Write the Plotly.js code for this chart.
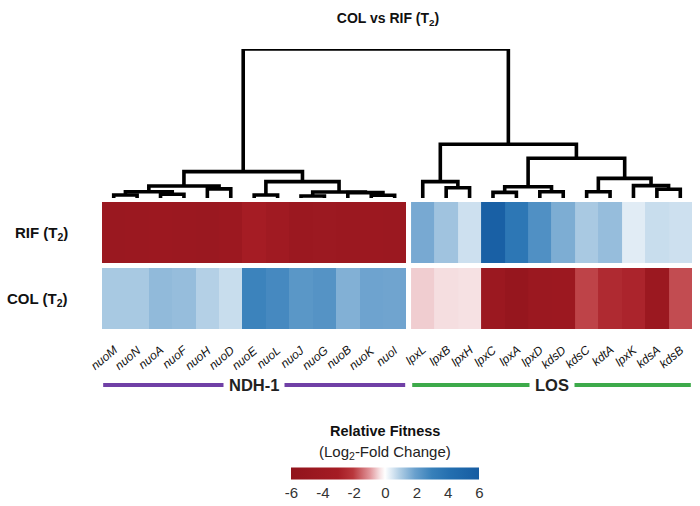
<!DOCTYPE html>
<html><head><meta charset="utf-8">
<script src="https://cdn.plot.ly/plotly-3.0.1.min.js"></script>
<style>html,body{margin:0;padding:0;background:#fff}#chart{width:700px;height:506px}</style>
</head><body><div id="chart"></div>
<script>
// ---- data ----
const ndhGenes = ['nuoM','nuoN','nuoA','nuoF','nuoH','nuoD','nuoE','nuoL','nuoJ','nuoG','nuoB','nuoK','nuoI'];
const losGenes = ['lpxL','lpxB','lpxH','lpxC','lpxA','lpxD','kdsD','kdsC','kdtA','lpxK','kdsA','kdsB'];
const conditions = ['COL (T<sub>2</sub>)', 'RIF (T<sub>2</sub>)']; // bottom row, top row
const ndhRIF = [-4.6,-4.5,-4.4,-4.5,-4.6,-4.4,-3.0,-3.8,-4.5,-4.3,-4.5,-4.4,-4.5];
const ndhCOL = [1.05,1.05,1.37,1.3,0.9,0.66,2.9,2.68,2.24,2.35,1.58,1.85,1.83];
const losRIF = [1.72,1.17,0.6,5.6,3.6,2.46,1.65,1.04,1.3,0.36,0.66,0.6];
const losCOL = [-0.5,-0.36,-0.33,-4.5,-5.2,-4.5,-4.4,-1.9,-2.5,-2.7,-4.5,-1.8];
const groupNames = ['NDH-1','LOS'];
const colorTicks = [-6,-4,-2,0,2,4,6];
// dendrogram merges: [childA, childB, height]; child = gene name or earlier merge index
const merges = [
  ['nuoM','nuoN',0.20],   //0
  ['nuoA','nuoF',0.25],   //1
  [0,1,0.42],             //2
  ['nuoH','nuoD',0.61],   //3
  [2,3,0.81],             //4
  ['nuoE','nuoL',0.20],   //5
  ['nuoJ','nuoG',0.13],   //6
  ['nuoK','nuoI',0.18],   //7
  ['nuoB',7,0.36],        //8
  [6,8,0.40],             //9
  [5,9,1.10],             //10
  [4,10,1.77],            //11
  ['lpxB','lpxH',0.69],   //12
  ['lpxL',12,1.10],       //13
  ['lpxC','lpxA',0.38],   //14
  ['lpxD','kdsD',0.42],   //15
  [14,15,0.76],           //16
  ['kdsC','kdtA',0.42],   //17
  ['kdsA','kdsB',0.59],   //18
  ['lpxK',18,0.83],       //19
  [17,19,1.32],           //20
  [16,20,2.67],           //21
  [13,21,3.61],           //22
  [11,22,10]              //23
];

// ---- layout helpers ----
const FONT = 'Arial, "Liberation Sans", Helvetica, sans-serif';
const blockGap = 0.2;
const ndhX = ndhGenes.map((g,i)=>i);
const losX = losGenes.map((g,i)=>ndhGenes.length + blockGap + i);
const leafX = {};
ndhGenes.forEach((g,i)=>leafX[g]=ndhX[i]);
losGenes.forEach((g,i)=>leafX[g]=losX[i]);

const colorscale = [
  [0,'rgb(145,20,28)'],[0.25,'rgb(165,28,36)'],[0.33,'rgb(185,55,60)'],
  [0.42,'rgb(225,150,155)'],[0.47,'rgb(245,222,224)'],[0.5,'rgb(255,255,255)'],
  [0.54,'rgb(215,230,242)'],[0.58,'rgb(175,205,228)'],[0.66,'rgb(105,160,205)'],
  [0.75,'rgb(55,128,186)'],[0.85,'rgb(35,110,175)'],[1,'rgb(22,92,162)']
];

// dendrogram segments
const nodeX = [], nodeH = [];
const dx = [], dy = [];
function pos(c){ return typeof c === 'number' ? [nodeX[c], nodeH[c]] : [leafX[c], 0]; }
merges.forEach((m,k)=>{
  const a = pos(m[0]), b = pos(m[1]), h = m[2];
  dx.push(a[0],a[0],b[0],b[0],null);
  dy.push(a[1],h,h,b[1],null);
  nodeX[k] = (a[0]+b[0])/2; nodeH[k] = h;
});

const common = {type:'heatmap', colorscale, zmin:-6, zmax:6, ygap:5, hoverinfo:'skip'};
const traces = [
  Object.assign({}, common, {x: ndhX, y:[0,1], z:[ndhCOL, ndhRIF], showscale:true,
    colorbar:{orientation:'h', x:0.4805, xanchor:'center', y:-0.531, yanchor:'middle',
      len:188, lenmode:'pixels', thickness:12, outlinewidth:0, xpad:0, ypad:0,
      tickvals:colorTicks, ticktext:colorTicks.map(String), ticks:'',
      tickfont:{family:FONT, size:15, color:'#333'}}}),
  Object.assign({}, common, {x: losX, y:[0,1], z:[losCOL, losRIF], showscale:false}),
  {type:'scatter', mode:'lines', x:dx, y:dy, xaxis:'x', yaxis:'y2', cliponaxis:false,
   line:{color:'#000', width:3.6}, hoverinfo:'skip', showlegend:false, connectgaps:false}
];

const annotations = [];
conditions.forEach((c,i)=>annotations.push({xref:'paper', yref:'y', x:-32/590, y:i, xanchor:'right', yanchor:'middle',
  text:'<b>'+c+'</b>', showarrow:false, font:{family:FONT, size:15, color:'#111'}}));
Object.keys(leafX).forEach(g=>annotations.push({xref:'x', yref:'paper', x:leafX[g], y:0, xanchor:'right', yanchor:'top',
  xshift:9, yshift:-8, textangle:-40, text:'<i>'+g+'</i>', showarrow:false, font:{family:FONT, size:12, color:'#111'}}));
const groupXs = [ndhX, losX];
const groupColors = ['#7040a6','#3daa4a'];
const lineY = (332-385)/283;
const shapes = [];
groupNames.forEach((n,i)=>{
  const xs = groupXs[i];
  shapes.push({type:'line', xref:'x', yref:'paper', x0:xs[0]-0.45, x1:xs[xs.length-1]+0.45, y0:lineY, y1:lineY,
    line:{color:groupColors[i], width:4}});
  annotations.push({xref:'x', yref:'paper', x:(xs[0]+xs[xs.length-1])/2, y:lineY, xanchor:'center', yanchor:'middle',
    text:'<b>'+n+'</b>', showarrow:false, bgcolor:'#fff', borderpad:5, font:{family:FONT, size:16.5, color:'#222'}});
});
annotations.push({xref:'paper', yref:'paper', x:0.4805, y:(332-431)/283, xanchor:'center', yanchor:'middle',
  text:'<b>Relative Fitness</b>', showarrow:false, font:{family:FONT, size:14.5, color:'#111'}});
annotations.push({xref:'paper', yref:'paper', x:0.4805, y:(332-452)/283, xanchor:'center', yanchor:'middle',
  text:'(Log<sub>2</sub>-Fold Change)', showarrow:false, font:{family:FONT, size:15, color:'#222'}});

const layout = {
  width:700, height:506, margin:{l:102, r:8, t:49, b:174},
  paper_bgcolor:'#fff', plot_bgcolor:'rgba(0,0,0,0)', showlegend:false,
  font:{family:FONT},
  title:{text:'<b>COL vs RIF (T<sub>2</sub>)</b>', x:388/700, xanchor:'center', y:1-18/506, yanchor:'middle',
    font:{family:FONT, size:14, color:'#111'}},
  xaxis:{range:[-0.5, ndhGenes.length+blockGap+losGenes.length-0.5], visible:false, fixedrange:true},
  yaxis:{domain:[0,(332-200)/283], range:[-0.5,1.5], visible:false},
  yaxis2:{domain:[(332-198)/283,1], range:[0,10], visible:false},
  annotations, shapes
};
Plotly.newPlot('chart', traces, layout, {staticPlot:true, displayModeBar:false});
</script></body></html>
